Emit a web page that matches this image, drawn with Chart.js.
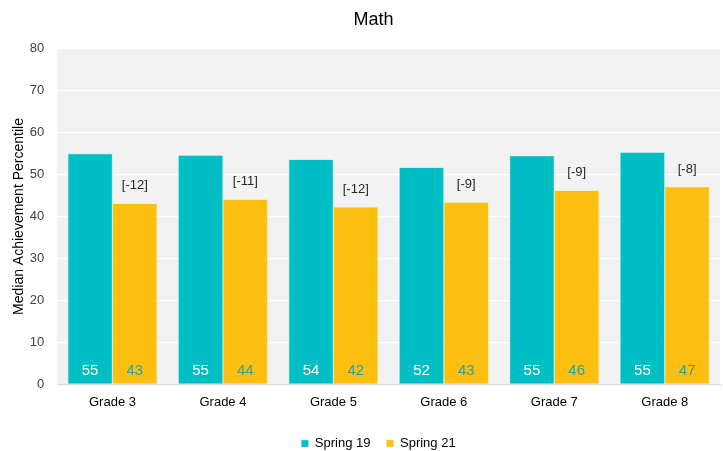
<!DOCTYPE html>
<html>
<head>
<meta charset="utf-8">
<script src="https://cdn.jsdelivr.net/npm/chart.js@4"></script>
<style>
  body { margin: 0; background: #fff; }
  #wrap { width: 723px; height: 451px; }
</style>
</head>
<body>
<div id="wrap"><canvas id="chart" width="723" height="451"></canvas></div>
<script>
// data
const grades = ["Grade 3", "Grade 4", "Grade 5", "Grade 6", "Grade 7", "Grade 8"];
const spring19 = [55.0, 54.6, 53.6, 51.7, 54.5, 55.3];
const spring21 = [43.1, 44.1, 42.3, 43.4, 46.2, 47.1];
const gapLabels = ["[-12]", "[-11]", "[-12]", "[-9]", "[-9]", "[-8]"];
const yTicks = [0, 10, 20, 30, 40, 50, 60, 70, 80];

const teal = "#00bfc4";
const gold = "#fdbf10";
const FONT = "'Liberation Sans', Arial, sans-serif";

// grey plot background
const plotBg = {
    id: "plotBg",
    beforeDraw(chart) {
        const { ctx, chartArea: a } = chart;
        ctx.save();
        ctx.fillStyle = "#f2f2f2";
        ctx.fillRect(a.left, a.top, a.right - a.left, a.bottom - a.top);
        ctx.restore();
    }
};

// title + legend sit a bit right of canvas centre in the original
const nudgeBoxes = {
    id: "nudgeBoxes",
    afterLayout(chart) {
        if (chart.legend) {
            chart.legend.left += 15;
            chart.legend.right += 15;
        }
        if (chart.titleBlock) {
            chart.titleBlock.left += 10;
            chart.titleBlock.right += 10;
        }
    }
};

// values at bar bottoms + gap above gold bars
const barLabels = {
    id: "barLabels",
    afterDatasetsDraw(chart) {
        const ctx = chart.ctx;
        ctx.save();
        ctx.textAlign = "center";
        ctx.textBaseline = "alphabetic";
        chart.data.datasets.forEach((ds, di) => {
            const meta = chart.getDatasetMeta(di);
            meta.data.forEach((bar, i) => {
                ctx.font = "15px " + FONT;
                ctx.fillStyle = di === 0 ? "#ffffff" : "#2aa39a";
                ctx.fillText(Math.round(ds.data[i]), bar.x, bar.base - 9);
                if (di === 1) {
                    ctx.font = "13px " + FONT;
                    ctx.fillStyle = "#262626";
                    ctx.fillText(gapLabels[i], bar.x, bar.y - 14);
                }
            });
        });
        ctx.restore();
    }
};

new Chart(document.getElementById("chart").getContext("2d"), {
    type: "bar",
    data: {
        labels: grades,
        datasets: [
            { label: "Spring 19", data: spring19, backgroundColor: teal, borderColor: "#7fe0e2", borderWidth: 0.6 },
            { label: "Spring 21", data: spring21, backgroundColor: gold, borderColor: "#ffe08a", borderWidth: 0.6 }
        ]
    },
    options: {
        responsive: false,
        animation: false,
        layout: { padding: { left: 7, right: 3, top: 0, bottom: -9 } },
        datasets: { bar: { categoryPercentage: 0.81, barPercentage: 1.0 } },
        plugins: {
            title: {
                display: true,
                text: "Math",
                color: "#000",
                font: { family: FONT, size: 18, weight: "normal" },
                padding: { top: 9, bottom: 18 }
            },
            legend: {
                position: "bottom",
                labels: {
                    color: "#000",
                    boxWidth: 7,
                    boxHeight: 7,
                    padding: 16,
                    font: { family: FONT, size: 13 }
                }
            },
            tooltip: { enabled: false }
        },
        scales: {
            x: {
                grid: { display: false, drawTicks: false },
                border: { color: "#d9d9d9" },
                afterFit(axis) { axis.height += 1; },
                ticks: {
                    color: "#000",
                    padding: 10,
                    font: { family: FONT, size: 13 }
                }
            },
            y: {
                min: 0,
                max: 80,
                afterBuildTicks(axis) { axis.ticks = yTicks.map(v => ({ value: v })); },
                afterFit(axis) { axis.width -= 13; },
                grid: { color: "#ffffff", lineWidth: 1.3, drawTicks: false },
                border: { display: false },
                ticks: {
                    color: "#404040",
                    padding: 13,
                    font: { family: FONT, size: 13 }
                },
                title: {
                    display: true,
                    text: "Median Achievement Percentile",
                    color: "#000",
                    padding: { top: 4, bottom: 2 },
                    font: { family: FONT, size: 14 }
                }
            }
        }
    },
    plugins: [plotBg, nudgeBoxes, barLabels]
});
</script>
</body>
</html>
